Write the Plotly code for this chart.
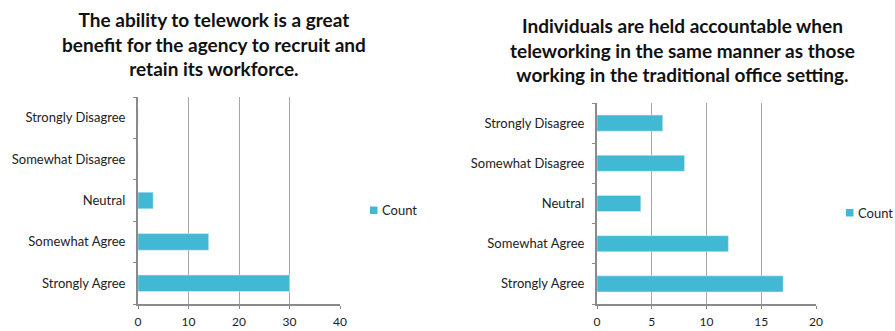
import plotly.graph_objects as go

categories = ["Strongly Agree", "Somewhat Agree", "Neutral", "Somewhat Disagree", "Strongly Disagree"]
left_counts = [30, 14, 3, 0, 0]
right_counts = [17, 12, 4, 8, 6]
left_title = "The ability to telework is a great<br>benefit for the agency to recruit and<br>retain its workforce."
right_title = "Individuals are held accountable when<br>teleworking in the same manner as those<br>working in the traditional office setting."
series_name = "Count"

W, H = 895, 331
BAR = "#41B9D4"
FONT = "Lato"

fig = go.Figure()
fig.add_trace(go.Bar(y=categories, x=left_counts, orientation="h", name=series_name,
                     marker=dict(color=BAR), width=0.4, xaxis="x", yaxis="y", showlegend=False))
fig.add_trace(go.Bar(y=categories, x=right_counts, orientation="h", name=series_name,
                     marker=dict(color=BAR), width=0.4, xaxis="x2", yaxis="y2", showlegend=False))

def xax(domain, rng, dtick, anchor):
    return dict(domain=domain, range=rng, dtick=dtick, anchor=anchor, showgrid=True,
                gridcolor="#a6a6a6", gridwidth=1, showline=True, linecolor="#8a8a8a", linewidth=2,
                ticks="outside", ticklen=3, tickcolor="#8a8a8a", zeroline=False,
                tickfont=dict(family=FONT, size=12, color="#222"), automargin=False,
                ticklabelstandoff=3, fixedrange=True)

def yax(domain, anchor):
    return dict(domain=domain, anchor=anchor, type="category", categoryorder="array",
                categoryarray=categories, showgrid=False, showline=True, linecolor="#8a8a8a",
                linewidth=2, ticks="outside", ticklen=3, tickcolor="#8a8a8a", tickson="boundaries",
                tickfont=dict(family=FONT, size=13, color="#222"), automargin=False,
                ticklabelstandoff=8, fixedrange=True)

def legend_entry(x_sq, y_sq, x_txt):
    shape = dict(type="rect", xref="paper", yref="paper", x0=x_sq/W, x1=(x_sq+7.5)/W,
                 y0=1-(y_sq+7.5)/H, y1=1-y_sq/H, fillcolor=BAR, line=dict(width=0))
    ann = dict(text=series_name, x=x_txt/W, y=1-(y_sq+3.75)/H, xref="paper", yref="paper",
               xanchor="left", yanchor="middle", showarrow=False,
               font=dict(family=FONT, size=13, color="#222"))
    return shape, ann

s1, a1 = legend_entry(370, 206.5, 380)
s2, a2 = legend_entry(846, 209, 856)

fig.update_layout(
    width=W, height=H, margin=dict(l=0, r=0, t=0, b=0, autoexpand=False),
    paper_bgcolor="white", plot_bgcolor="white",
    xaxis=xax([138/W, 340/W], [0, 40], 10, "y"),
    yaxis=yax([1-304/H, 1-97/H], "x"),
    xaxis2=xax([597/W, 816/W], [0, 20], 5, "y2"),
    yaxis2=yax([1-304/H, 1-103/H], "x2"),
    showlegend=False,
    shapes=[s1, s2],
    annotations=[
        dict(text="<b>"+left_title+"</b>", x=214/W, y=1-6/H, xref="paper", yref="paper",
             xanchor="center", yanchor="top", showarrow=False,
             font=dict(family=FONT, size=19, color="#111")),
        dict(text="<b>"+right_title+"</b>", x=682/W, y=1-12/H, xref="paper", yref="paper",
             xanchor="center", yanchor="top", showarrow=False,
             font=dict(family=FONT, size=19, color="#111")),
        a1, a2,
    ],
)

fig.write_html("out.html")
